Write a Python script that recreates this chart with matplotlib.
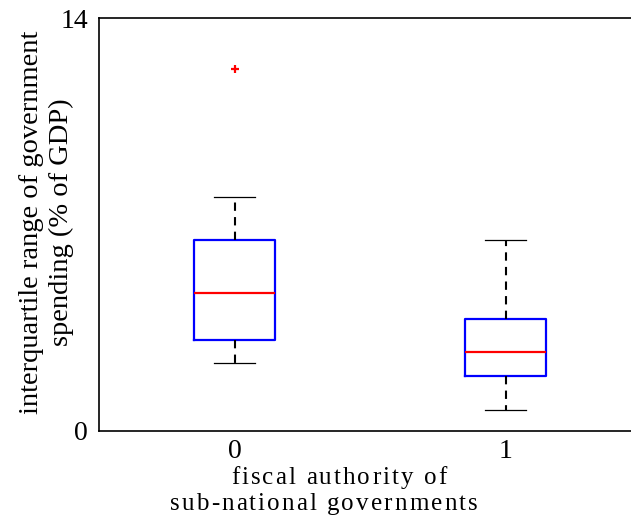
import matplotlib
matplotlib.use("Agg")
import matplotlib.pyplot as plt
from matplotlib.font_manager import FontProperties

categories = ["0", "1"]
whisker_low = [2.31, 0.71]
q1 = [3.08, 1.86]
median = [4.68, 2.68]
q3 = [6.47, 3.80]
whisker_high = [7.93, 6.47]
outliers = [[12.27], []]
y_ticks = [0, 14]
ylabel_lines = ["interquartile range of government", "spending (% of GDP)"]
xlabel_lines = ["fiscal authority of", "sub-national governments"]

FAMILY = ['Liberation Serif', 'DejaVu Serif']
plt.rcParams['font.family'] = FAMILY

W, H = 631, 525
fig = plt.figure(figsize=(W / 100, H / 100), dpi=100)
ax = fig.add_axes([99 / W, 1 - 431 / H, (641 - 99) / W, (431 - 18) / H])

stats = []
for i in range(len(categories)):
    stats.append(dict(med=median[i], q1=q1[i], q3=q3[i],
                      whislo=whisker_low[i], whishi=whisker_high[i],
                      fliers=outliers[i], label=categories[i]))

ax.bxp(stats, positions=range(len(categories)), widths=0.30,
       boxprops=dict(color='blue', linewidth=1.6),
       medianprops=dict(color='red', linewidth=1.6),
       whiskerprops=dict(color='black', linewidth=1.5, linestyle=(0, (4, 3))),
       capprops=dict(color='black', linewidth=0.9),
       flierprops=dict(marker='+', markeredgecolor='red', markersize=6, markeredgewidth=1.6),
       capwidths=0.15)

ax.set_xlim(-0.5, 1.5)
ax.set_ylim(0, 14)
ax.set_yticks(y_ticks)
ax.set_yticklabels([str(t) for t in y_ticks])
ax.set_xticks(range(len(categories)))
ax.set_xticklabels(categories)
ax.tick_params(axis='y', length=0, labelsize=20, pad=8)
ax.tick_params(axis='x', length=0, labelsize=20, pad=6)
for s in ax.spines.values():
    s.set_linewidth(1.2)

# y label: two rotated lines
ylab_size = 20.5
for txt, xb in zip(ylabel_lines, [38, 68]):
    fig.text(xb / W, 1 - 222 / H, txt, rotation=90, rotation_mode='anchor',
             ha='center', va='baseline', fontsize=ylab_size)

# x label: letter-spaced text, drawn char by char
renderer = fig.canvas.get_renderer()
xlab_size = 18
prop = FontProperties(family=FAMILY, size=xlab_size)


def text_width(s):
    w, _, _ = renderer.get_text_width_height_descent(s + "|", prop, ismath=False)
    w0, _, _ = renderer.get_text_width_height_descent("|", prop, ismath=False)
    return w - w0


def tracked_text(s, x_left, y_base, tracking):
    for i, ch in enumerate(s):
        x = x_left + text_width(s[:i]) + i * tracking
        if ch != " ":
            fig.text(x / W, 1 - y_base / H, ch, ha='left', va='baseline',
                     fontproperties=prop)


tracked_text(xlabel_lines[0], 231, 484, 2.1)
tracked_text(xlabel_lines[1], 170, 510, 2.1)

fig.savefig("out.png", dpi=100)
